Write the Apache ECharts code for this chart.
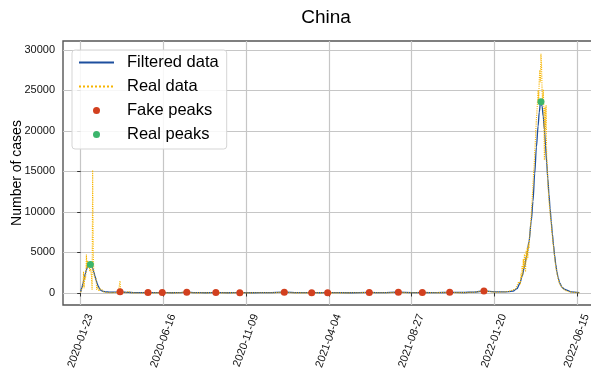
<!DOCTYPE html>
<html><head><meta charset="utf-8">
<script src="https://cdn.jsdelivr.net/npm/echarts@6/dist/echarts.min.js"></script>
<style>html,body{margin:0;padding:0;background:#fff}#c{width:591px;height:369px}</style>
</head><body><div id="c"></div>
<script>
const tickDays = [0, 145, 290, 435, 580, 725, 870];
const tickLabels = ['2020-01-23', '2020-06-16', '2020-11-09', '2021-04-04', '2021-08-27', '2022-01-20', '2022-06-15'];
const yTicks = [0, 5000, 10000, 15000, 20000, 25000, 30000];

const realDays = [0,1,2,3,4,5,6,7,8,9,10,11,12,13,14,15,16,17,18,19,20,21,22,23,24,25,26,27,28,29,30,31,32,33,34,35,36,37,38,39,40,41,42,43,44,45,46,47,48,49,50,
52,54,56,58,60,62,64,66,68,69,70,72,76,80,84,85,88,92,96,100,105,110,115,118,121,125,130,135,140,143,146,150,155,160,165,170,175,180,185,188,192,196,200,205,210,215,220,225,230,235,238,242,248,255,262,270,276,280,284,290,295,300,310,320,330,340,350,355,358,362,366,370,376,382,390,398,404,408,415,425,430,434,440,450,460,470,480,490,500,506,512,520,530,540,550,556,560,566,572,580,590,598,604,612,620,630,640,647,652,660,670,680,690,698,703,707,711,716,722,728,735,742,748,754,758,762,765,768,
770,771,772,773,774,775,776,777,778,779,780,781,782,783,784,785,786,787,788,789,790,791,792,793,794,795,796,797,798,799,800,801,802,803,804,805,806,807,808,809,810,811,812,813,814,815,816,817,818,819,820,821,822,823,824,825,826,827,828,829,830,831,832,833,834,835,836,837,838,839,840,842,844,846,848,850,853,856,860,864,868,872,876];
const realCases = [95,277,486,669,802,2632,578,2054,1661,2089,4739,3086,3991,3733,3147,3523,2676,3001,2555,2071,410,15141,5090,2641,2009,2051,1891,1751,394,891,826,647,218,515,410,439,331,433,579,206,130,120,143,146,102,46,45,20,31,26,11,
27,39,78,55,64,68,61,31,45,1500,80,60,90,40,220,60,30,20,10,8,5,10,30,45,20,8,10,15,30,45,25,15,20,15,10,20,50,100,120,90,60,30,15,20,15,25,20,20,25,40,30,20,15,20,15,20,30,35,25,20,15,20,25,30,25,35,80,120,140,100,60,30,20,15,15,20,30,25,15,20,30,25,15,20,15,20,25,40,60,70,40,30,25,30,80,110,90,50,30,30,40,50,40,30,35,50,70,80,60,40,50,70,100,180,220,260,230,180,120,100,120,130,180,250,400,500,900,1400,
1300,1100,2500,1800,3400,2200,4200,3000,4800,3900,2600,5200,4100,5600,4300,6100,5500,6900,7500,8800,9600,10900,12100,13200,14800,15600,17200,18500,20100,21500,22400,23800,25000,23400,26400,27500,26000,29500,28200,24800,23300,25100,23000,16400,22900,20000,23200,17000,15800,14000,12500,12300,10600,10000,9000,8700,7600,7000,6200,5700,5000,4400,3800,3300,2800,2500,2100,1800,1500,1300,1100,900,700,500,400,300,200,150,100,80,60,40,30];

const filteredDays = [0,2,4,6,8,10,12,14,17,19,21,23,25,27,29,31,33,35,37,40,44,50,56,62,66,69,72,77,84,92,100,110,118,130,143,160,175,186,200,220,237,258,279,300,330,357,380,405,420,433,470,506,530,557,580,599,625,647,670,690,707,725,740,750,758,765,770,774,778,782,786,790,793,796,799,802,804,806,807,809,811,813,815,817,819,821,823,825,827,829,831,833,835,837,840,844,848,852,860,874];
const filteredCases = [150,600,1150,1750,2350,2850,3250,3450,3500,3380,3050,2600,2100,1600,1150,800,540,370,270,190,140,110,95,100,130,150,130,90,70,50,35,40,60,35,55,30,50,90,40,30,50,30,45,30,40,100,35,40,30,40,30,70,40,90,50,60,45,80,60,120,250,150,130,170,220,550,1200,2100,3200,4600,6300,8900,11300,14700,18000,20600,22300,23400,23580,23000,21800,20200,18200,16100,14100,12200,10400,8800,7300,5900,4600,3500,2600,1900,1200,700,480,350,150,50];

const fakePeakDays = [69, 118, 143, 186, 237, 279, 357, 405, 433, 506, 557, 599, 647, 707];
const fakePeakCases = [150, 60, 55, 90, 50, 45, 100, 40, 40, 70, 90, 60, 80, 250];
const realPeakDays = [17, 807];
const realPeakCases = [3500, 23580];

const zip = (a, b) => a.map((v, i) => [v, b[i]]);
const FONT = 'Liberation Sans, Arial, sans-serif';

const chart = echarts.init(document.getElementById('c'), null, {renderer: 'canvas'});
chart.setOption({
  animation: false,
  backgroundColor: '#fff',
  title: {
    text: 'China', left: 326, top: 8, textAlign: 'center', padding: 0,
    textStyle: {fontFamily: FONT, fontSize: 19, fontWeight: 'normal', color: '#000'}
  },
  grid: {left: 63, top: 41, width: 535, height: 264, outerBoundsMode: 'none', containLabel: false,
         show: true, borderColor: '#555', borderWidth: 1.4, backgroundColor: 'transparent'},
  legend: {
    orient: 'vertical', left: 72, top: 50,
    padding: [4, 8, 6, 6], itemGap: 7, itemWidth: 35, itemHeight: 7,
    backgroundColor: 'rgba(255,255,255,0.85)', borderColor: '#d5d5d5', borderWidth: 1, borderRadius: 3,
    textStyle: {fontFamily: FONT, fontSize: 16.5, color: '#000', lineHeight: 17, padding: [0, 0, 0, 8]},
    data: [
      {name: 'Filtered data', itemStyle: {opacity: 0}},
      {name: 'Real data', itemStyle: {opacity: 0}},
      {name: 'Fake peaks'},
      {name: 'Real peaks'}
    ]
  },
  xAxis: {
    type: 'value', min: -31, max: 907,
    axisLine: {show: false},
    axisTick: {show: true, customValues: tickDays, length: 3.5, lineStyle: {color: '#333'}},
    axisLabel: {
      customValues: tickDays, rotate: 70, margin: 6, verticalAlign: 'top', lineHeight: 20,
      fontFamily: FONT, fontSize: 11, color: '#111',
      formatter: v => tickLabels[tickDays.indexOf(v)] || ''
    },
    splitLine: {show: true, lineStyle: {color: '#c6c6c6', width: 1.2}}
  },
  yAxis: {
    type: 'value', min: -1480, max: 31080,
    name: 'Number of cases', nameLocation: 'middle', nameGap: 39, nameMoveOverlap: false,
    nameTextStyle: {fontFamily: FONT, fontSize: 14, color: '#000'},
    axisLine: {show: false},
    axisTick: {show: true, customValues: yTicks, length: 3.5, lineStyle: {color: '#333'}},
    axisLabel: {customValues: yTicks, margin: 8, fontFamily: FONT, fontSize: 11, color: '#111',
                formatter: v => String(v)},
    splitLine: {show: true, lineStyle: {color: '#c6c6c6', width: 1.2}}
  },
  series: [
    {name: 'Filtered data', type: 'line', data: zip(filteredDays, filteredCases), symbol: 'none', smooth: 0.3, smoothMonotone: 'x',
     lineStyle: {color: '#1d4f9e', width: 1.3}, itemStyle: {color: '#1d4f9e'}, z: 2},
    {name: 'Real data', type: 'line', data: zip(realDays, realCases), symbol: 'none',
     lineStyle: {color: '#f7b500', width: 1.1, type: 'dotted'}, itemStyle: {color: '#f7b500'}, z: 3},
    {name: 'Fake peaks', type: 'scatter', data: zip(fakePeakDays, fakePeakCases), symbol: 'circle', symbolSize: 7,
     itemStyle: {color: '#d2401f', opacity: 1}, z: 4},
    {name: 'Real peaks', type: 'scatter', data: zip(realPeakDays, realPeakCases), symbol: 'circle', symbolSize: 7,
     itemStyle: {color: '#3cb56c', opacity: 1}, z: 4}
  ]
});
</script></body></html>
